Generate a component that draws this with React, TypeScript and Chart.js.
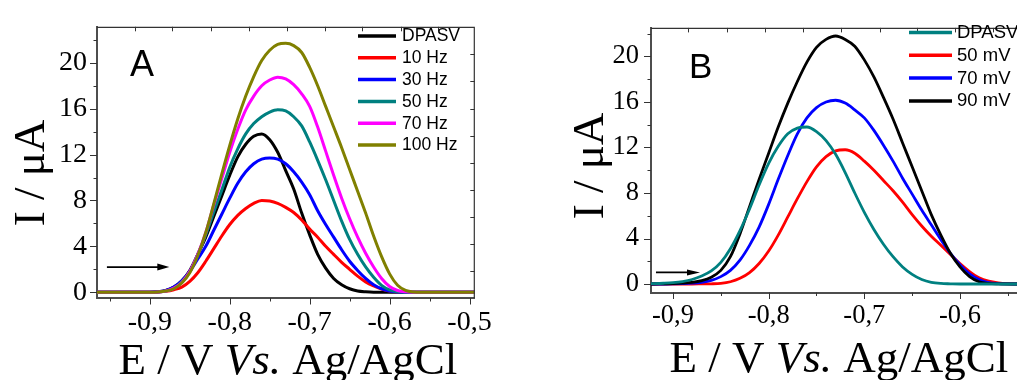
import { useEffect, useRef } from 'react';
import { Chart, registerables } from 'chart.js';

Chart.register(...registerables);

// ---------- Panel A: DPASV and square-wave stripping at several frequencies ----------
const potentialA = [
  -0.97, -0.91, -0.9, -0.89, -0.88, -0.87, -0.86, -0.85, -0.84, -0.83, -0.82, -0.81, -0.8,
  -0.79, -0.78, -0.77, -0.76, -0.75, -0.74, -0.73, -0.72, -0.71, -0.7, -0.69, -0.68, -0.67,
  -0.66, -0.65, -0.64, -0.63, -0.62, -0.61, -0.6, -0.59, -0.58, -0.57, -0.56, -0.49,
];
const dpasvA = [
  0, 0, 0, 0.03, 0.15, 0.45, 1.0, 1.9, 3.3, 4.8, 6.6, 8.4, 10.2, 11.8, 12.9, 13.6, 13.8, 13.3,
  12.2, 10.6, 9.0, 6.9, 5.0, 3.3, 2.1, 1.2, 0.65, 0.3, 0.1, 0.03, 0, 0, 0, 0, 0, 0, 0, 0,
];
const hz10 = [
  0, 0, 0, 0.02, 0.08, 0.22, 0.45, 0.95, 1.7, 2.7, 3.8, 4.9, 5.9, 6.7, 7.3, 7.75, 8.0, 7.95,
  7.75, 7.4, 6.95, 6.3, 5.5, 4.8, 4.0, 3.3, 2.6, 2.0, 1.4, 0.9, 0.55, 0.28, 0.1, 0.02, 0, 0, 0, 0,
];
const hz30 = [
  0, 0, 0, 0.03, 0.15, 0.45, 1.0, 1.8, 2.9, 4.0, 5.4, 6.8, 8.2, 9.5, 10.5, 11.2, 11.6, 11.7,
  11.6, 11.2, 10.5, 9.6, 8.5, 7.1, 5.9, 4.8, 3.7, 2.7, 1.9, 1.2, 0.65, 0.3, 0.1, 0.02, 0, 0, 0, 0,
];
const hz50 = [
  0, 0, 0, 0.02, 0.1, 0.35, 0.9, 1.8, 3.3, 5.0, 7.0, 8.9, 10.9, 12.5, 13.8, 14.7, 15.3, 15.7,
  15.9, 15.8, 15.3, 14.5, 13.1, 11.5, 9.8, 8.0, 6.2, 4.6, 3.3, 2.2, 1.3, 0.6, 0.2, 0.04, 0, 0, 0, 0,
];
const hz70 = [
  0, 0, 0, 0.02, 0.1, 0.35, 0.85, 1.8, 3.3, 5.2, 7.6, 9.9, 12.2, 14.2, 15.9, 17.1, 18.0, 18.5,
  18.75, 18.6, 18.1, 17.3, 16.2, 14.4, 12.3, 10.2, 8.2, 6.4, 4.8, 3.4, 2.2, 1.2, 0.5, 0.15, 0.03, 0, 0, 0,
];
const hz100 = [
  0, 0, 0, 0.02, 0.1, 0.3, 0.8, 1.7, 3.2, 5.2, 7.7, 10.3, 12.8, 15.1, 17.1, 18.8, 20.2, 21.1,
  21.6, 21.7, 21.5, 20.9, 19.6, 18.0, 16.2, 14.4, 12.6, 10.7, 8.8, 6.9, 4.9, 3.1, 1.6, 0.6, 0.15, 0.02, 0, 0,
];
const legendA = ['DPASV', '10 Hz', '30 Hz', '50 Hz', '70 Hz', '100 Hz'];

// ---------- Panel B: DPASV and square-wave stripping at several amplitudes ----------
const potentialB = [
  -0.93, -0.92, -0.91, -0.9, -0.89, -0.88, -0.87, -0.86, -0.85, -0.84, -0.83, -0.82, -0.81,
  -0.8, -0.79, -0.78, -0.77, -0.76, -0.75, -0.74, -0.73, -0.72, -0.71, -0.7, -0.69, -0.68,
  -0.67, -0.66, -0.65, -0.64, -0.63, -0.62, -0.61, -0.6, -0.59, -0.58, -0.57, -0.56, -0.55, -0.54,
];
const dpasvB = [
  0.02, 0.04, 0.07, 0.12, 0.22, 0.4, 0.7, 1.15, 1.9, 3.1, 4.7, 6.6, 8.7, 10.6, 12.1, 13.2, 13.7,
  13.8, 13.4, 12.6, 11.4, 9.8, 8.0, 6.3, 4.8, 3.5, 2.4, 1.5, 0.85, 0.4, 0.15, 0.05, 0.02, 0, 0, 0,
  0, 0, 0, 0,
];
const mv50 = [
  0, 0, 0, 0, 0, 0, 0.01, 0.02, 0.06, 0.2, 0.5, 1.0, 1.8, 2.9, 4.3, 5.9, 7.5, 9.0, 10.3, 11.2,
  11.7, 11.8, 11.5, 10.8, 10.0, 9.1, 8.2, 7.2, 6.1, 5.1, 4.2, 3.4, 2.6, 1.8, 1.1, 0.55, 0.25, 0.1,
  0.03, 0.01,
];
const mv70 = [
  0, 0, 0, 0.01, 0.03, 0.07, 0.15, 0.32, 0.65, 1.2, 2.1, 3.4, 5.0, 7.0, 9.2, 11.3, 13.2, 14.6,
  15.5, 16.0, 16.15, 15.9, 15.3, 14.6, 13.5, 12.2, 10.8, 9.3, 7.9, 6.5, 5.2, 3.9, 2.7, 1.7, 0.9,
  0.4, 0.13, 0.04, 0.01, 0,
];
const mv90 = [
  0, 0, 0.02, 0.04, 0.08, 0.15, 0.3, 0.6, 1.2, 2.4, 4.4, 6.8, 9.2, 11.5, 13.8, 15.9, 17.8, 19.5,
  20.8, 21.5, 21.8, 21.5, 20.9, 19.7, 18.2, 16.4, 14.5, 12.4, 10.3, 8.2, 6.1, 4.3, 2.7, 1.5, 0.65,
  0.2, 0.05, 0.01, 0, 0,
];
const legendB = ['DPASV', '50 mV', '70 mV', '90 mV'];

// ---------- Axis ticks ----------
const currentMajor = [0, 4, 8, 12, 16, 20];
const currentMinor = [2, 6, 10, 14, 18, 22];
const potentialMajorA = [-0.9, -0.8, -0.7, -0.6, -0.5];
const potentialMinorA = [-0.95, -0.85, -0.75, -0.65, -0.55];
const potentialMajorB = [-0.9, -0.8, -0.7, -0.6];
const potentialMinorB = [-0.85, -0.75, -0.65, -0.55];
const topTicksA = [-0.919, -0.872, -0.824, -0.776, -0.729, -0.681, -0.634, -0.586, -0.539];
const rightTicksA = [1.83, 4.2, 6.55, 8.9, 11.25, 13.6, 16.0, 18.38, 20.77];
const topTicksB = [-0.884, -0.844, -0.804, -0.764, -0.724, -0.684, -0.645, -0.605, -0.565];

const SERIF = '"Liberation Serif", "Times New Roman", serif';
const SANS = '"Liberation Sans", Arial, sans-serif';
const AXIS_COLOR = '#4d4d4d';
const FRAME_COLOR = '#333333';

interface Series {
  label: string;
  color: string;
  values: number[];
  order: number;
}

interface PanelSpec {
  width: number;
  height: number;
  padTop: number;
  padRight: number;
  yAxisWidth: number;
  xAxisHeight: number;
  xMin: number;
  xMax: number;
  yMin: number;
  yMax: number;
  potentials: number[];
  series: Series[];
  lineWidth: number;
  xMajor: number[];
  xMinor: number[];
  topTicks: number[];
  rightTicks: number[] | null;
  tickFont: number;
  xLabelPad: number;
  yLabelPad: number;
  letter: { text: string; x: number; y: number; size: number };
  legend: { x1: number; x2: number; tx: number; y0: number; dy: number; size: number };
  arrow: { from: number; to: number; level: number; head: number; half: number };
  xTitle: { cx: number; y: number };
  yTitle: { x: number; cy: number };
}

const panelA: PanelSpec = {
  width: 500,
  height: 380,
  padTop: 17,
  padRight: 22,
  yAxisWidth: 97,
  xAxisHeight: 82,
  xMin: -0.9661,
  xMax: -0.4934,
  yMin: -0.505,
  yMax: 23.14,
  potentials: potentialA,
  series: [
    { label: legendA[0], color: '#000000', values: dpasvA, order: 5 },
    { label: legendA[1], color: '#ff0000', values: hz10, order: 4 },
    { label: legendA[2], color: '#0000ff', values: hz30, order: 3 },
    { label: legendA[3], color: '#008080', values: hz50, order: 2 },
    { label: legendA[4], color: '#ff00ff', values: hz70, order: 1 },
    { label: legendA[5], color: '#808000', values: hz100, order: 0 },
  ],
  lineWidth: 3,
  xMajor: potentialMajorA,
  xMinor: potentialMinorA,
  topTicks: topTicksA,
  rightTicks: rightTicksA,
  tickFont: 28,
  xLabelPad: 8,
  yLabelPad: 10,
  letter: { text: 'A', x: 130, y: 76, size: 36 },
  legend: { x1: 358, x2: 396, tx: 402, y0: 36, dy: 21.8, size: 17.5 },
  arrow: { from: -0.9537, to: -0.8756, level: 2.19, head: 12, half: 3.5 },
  xTitle: { cx: 288, y: 373.5 },
  yTitle: { x: 44, cy: 173 },
};

const panelB: PanelSpec = {
  width: 517,
  height: 380,
  padTop: 12,
  padRight: 0,
  yAxisWidth: 151,
  xAxisHeight: 87.5,
  xMin: -0.923,
  xMax: -0.5404,
  yMin: -0.745,
  yMax: 22.51,
  potentials: potentialB,
  series: [
    { label: legendB[0], color: '#008080', values: dpasvB, order: 0 },
    { label: legendB[1], color: '#ff0000', values: mv50, order: 3 },
    { label: legendB[2], color: '#0000ff', values: mv70, order: 2 },
    { label: legendB[3], color: '#000000', values: mv90, order: 1 },
  ],
  lineWidth: 2.8,
  xMajor: potentialMajorB,
  xMinor: potentialMinorB,
  topTicks: topTicksB,
  rightTicks: null,
  tickFont: 26.5,
  xLabelPad: 8,
  yLabelPad: 12,
  letter: { text: 'B', x: 189, y: 78, size: 35 },
  legend: { x1: 409, x2: 452, tx: 457, y0: 32.5, dy: 22.8, size: 18.5 },
  arrow: { from: -0.9178, to: -0.8718, level: 1.02, head: 13, half: 3 },
  xTitle: { cx: 339, y: 372 },
  yTitle: { x: 103, cy: 166 },
};

const formatPotential = (v: number) => v.toFixed(1).replace('.', ',');

// Frame, tick marks, arrow, legend, panel letter and axis titles
function decorations(spec: PanelSpec) {
  return {
    id: 'panelDecorations',
    afterDraw(chart: any) {
      const ctx: CanvasRenderingContext2D = chart.ctx;
      const { left, right, top, bottom } = chart.chartArea;
      const xs = chart.scales.x;
      const ys = chart.scales.y;
      ctx.save();

      // top and right edges of the frame
      ctx.strokeStyle = FRAME_COLOR;
      ctx.lineWidth = 1.2;
      ctx.beginPath();
      ctx.moveTo(left, top + 0.5);
      ctx.lineTo(right, top + 0.5);
      if (spec.rightTicks) {
        ctx.moveTo(right - 0.5, top);
        ctx.lineTo(right - 0.5, bottom);
      }
      ctx.stroke();

      // tick marks
      ctx.lineWidth = 1;
      ctx.strokeStyle = FRAME_COLOR;
      ctx.beginPath();
      const vTick = (px: number, y0: number, y1: number) => {
        const x = Math.round(px) + 0.5;
        ctx.moveTo(x, y0);
        ctx.lineTo(x, y1);
      };
      const hTick = (py: number, x0: number, x1: number) => {
        const y = Math.round(py) + 0.5;
        ctx.moveTo(x0, y);
        ctx.lineTo(x1, y);
      };
      spec.xMajor.forEach((v) => vTick(xs.getPixelForValue(v), bottom, bottom + 6.5));
      spec.xMinor.forEach((v) => vTick(xs.getPixelForValue(v), bottom, bottom + 3.5));
      currentMajor.forEach((v) => hTick(ys.getPixelForValue(v), left - 7, left));
      currentMinor.forEach((v) => {
        if (v <= spec.yMax) hTick(ys.getPixelForValue(v), left - 3.5, left);
      });
      spec.topTicks.forEach((v) => vTick(xs.getPixelForValue(v), top, top + 4.5));
      if (spec.rightTicks) {
        spec.rightTicks.forEach((v) => hTick(ys.getPixelForValue(v), right - 4.5, right));
      }
      ctx.stroke();

      // scan direction arrow
      const ay = ys.getPixelForValue(spec.arrow.level);
      const ax0 = xs.getPixelForValue(spec.arrow.from);
      const ax1 = xs.getPixelForValue(spec.arrow.to);
      ctx.strokeStyle = '#000';
      ctx.fillStyle = '#000';
      ctx.lineWidth = 1.8;
      ctx.beginPath();
      ctx.moveTo(ax0, ay);
      ctx.lineTo(ax1 - spec.arrow.head + 1, ay);
      ctx.stroke();
      ctx.beginPath();
      ctx.moveTo(ax1, ay);
      ctx.lineTo(ax1 - spec.arrow.head, ay - spec.arrow.half);
      ctx.lineTo(ax1 - spec.arrow.head, ay + spec.arrow.half);
      ctx.closePath();
      ctx.fill();

      // legend
      const lg = spec.legend;
      ctx.font = `${lg.size}px ${SANS}`;
      ctx.textAlign = 'left';
      ctx.textBaseline = 'middle';
      spec.series.forEach((s, i) => {
        const y = lg.y0 + i * lg.dy;
        ctx.strokeStyle = s.color;
        ctx.lineWidth = 3.5;
        ctx.beginPath();
        ctx.moveTo(lg.x1, y);
        ctx.lineTo(lg.x2, y);
        ctx.stroke();
        ctx.fillStyle = '#000';
        ctx.fillText(s.label, lg.tx, y + 0.5);
      });

      // panel letter
      ctx.font = `${spec.letter.size}px ${SANS}`;
      ctx.textBaseline = 'alphabetic';
      ctx.fillText(spec.letter.text, spec.letter.x, spec.letter.y);

      // x-axis title with italic "Vs."
      const parts = [
        { text: 'E / V ', italic: false },
        { text: 'Vs.', italic: true },
        { text: ' Ag/AgCl', italic: false },
      ];
      const fontFor = (italic: boolean) => `${italic ? 'italic ' : ''}45px ${SERIF}`;
      const widths = parts.map((p) => {
        ctx.font = fontFor(p.italic);
        return ctx.measureText(p.text).width;
      });
      let tx = spec.xTitle.cx - widths.reduce((a, b) => a + b, 0) / 2;
      parts.forEach((p, i) => {
        ctx.font = fontFor(p.italic);
        ctx.fillText(p.text, tx, spec.xTitle.y);
        tx += widths[i];
      });

      // y-axis title
      ctx.save();
      ctx.translate(spec.yTitle.x, spec.yTitle.cy);
      ctx.rotate(-Math.PI / 2);
      ctx.font = fontFor(false);
      ctx.textAlign = 'center';
      ctx.fillText('I / \u03bcA', 0, 0);
      ctx.restore();

      ctx.restore();
    },
  };
}

function buildConfig(spec: PanelSpec): any {
  return {
    type: 'line',
    data: {
      datasets: spec.series.map((s) => ({
        label: s.label,
        data: spec.potentials.map((x, i) => ({ x, y: s.values[i] })),
        borderColor: s.color,
        backgroundColor: s.color,
        borderWidth: spec.lineWidth,
        pointRadius: 0,
        fill: false,
        cubicInterpolationMode: 'monotone',
        order: s.order,
      })),
    },
    options: {
      responsive: false,
      animation: false,
      devicePixelRatio: 1,
      events: [],
      layout: { padding: { top: spec.padTop, right: spec.padRight, left: 0, bottom: 0 } },
      plugins: { legend: { display: false }, tooltip: { enabled: false } },
      scales: {
        x: {
          type: 'linear',
          min: spec.xMin,
          max: spec.xMax,
          afterFit: (scale: any) => {
            scale.height = spec.xAxisHeight;
          },
          afterBuildTicks: (scale: any) => {
            scale.ticks = spec.xMajor.map((v) => ({ value: v }));
          },
          grid: { display: false, drawTicks: false, tickLength: 0 },
          border: { display: true, color: AXIS_COLOR, width: 2 },
          ticks: {
            autoSkip: false,
            maxRotation: 0,
            padding: spec.xLabelPad,
            color: '#000',
            font: { family: SERIF, size: spec.tickFont },
            callback: (v: number) => formatPotential(v),
          },
        },
        y: {
          type: 'linear',
          min: spec.yMin,
          max: spec.yMax,
          afterFit: (scale: any) => {
            scale.width = spec.yAxisWidth;
          },
          afterBuildTicks: (scale: any) => {
            scale.ticks = currentMajor.map((v) => ({ value: v }));
          },
          grid: { display: false, drawTicks: false, tickLength: 0 },
          border: { display: true, color: AXIS_COLOR, width: 2 },
          ticks: {
            autoSkip: false,
            padding: spec.yLabelPad,
            color: '#000',
            font: { family: SERIF, size: spec.tickFont },
            callback: (v: number) => String(v),
          },
        },
      },
    },
    plugins: [decorations(spec)],
  };
}

function Panel({ spec, left }: { spec: PanelSpec; left: number }) {
  const ref = useRef<HTMLCanvasElement>(null);
  useEffect(() => {
    const canvas = ref.current;
    if (!canvas) return;
    const chart = new Chart(canvas, buildConfig(spec));
    return () => chart.destroy();
  }, [spec]);
  return (
    <canvas
      ref={ref}
      width={spec.width}
      height={spec.height}
      style={{ position: 'absolute', left, top: 0, width: spec.width, height: spec.height }}
    />
  );
}

export default function App() {
  return (
    <div
      style={{
        position: 'fixed',
        left: 0,
        top: 0,
        width: 1017,
        height: 380,
        overflow: 'hidden',
        background: '#ffffff',
      }}
    >
      <Panel spec={panelA} left={0} />
      <Panel spec={panelB} left={500} />
    </div>
  );
}
